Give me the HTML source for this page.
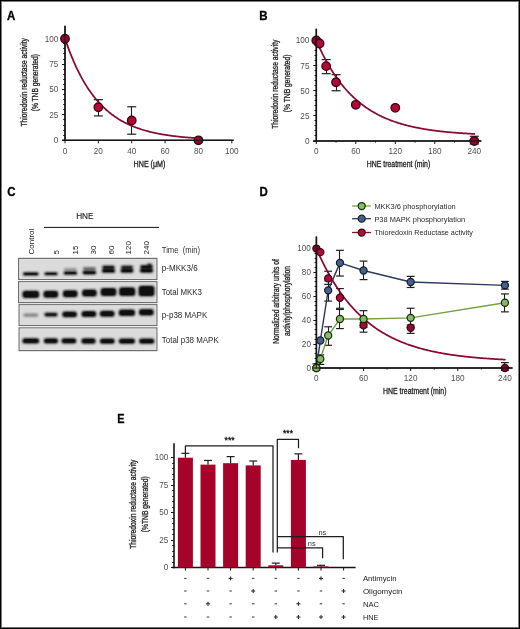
<!DOCTYPE html>
<html><head><meta charset="utf-8"><style>
html,body{margin:0;padding:0;background:#fff;}
svg{display:block;opacity:0.999;}
text{font-family:"Liberation Sans", sans-serif;}
</style></head><body>
<svg width="520" height="629" viewBox="0 0 520 629">
<defs><filter id="blur" x="-20%" y="-50%" width="140%" height="200%" color-interpolation-filters="sRGB"><feGaussianBlur stdDeviation="0.9"/></filter><filter id="blur2" x="-20%" y="-50%" width="140%" height="200%" color-interpolation-filters="sRGB"><feGaussianBlur stdDeviation="0.4"/></filter></defs>
<rect x="0" y="0" width="520" height="629" fill="#fff"/>
<text x="7.00" y="19.70" font-size="12.4" font-weight="bold" fill="#000" stroke="#000" stroke-width="0.3" textLength="8.3" lengthAdjust="spacingAndGlyphs">A</text>
<line x1="65.00" y1="25.80" x2="65.00" y2="141.00" stroke="#151515" stroke-width="1.6" />
<line x1="62.00" y1="140.50" x2="65.00" y2="140.50" stroke="#151515" stroke-width="1.0" />
<line x1="63.20" y1="135.50" x2="65.00" y2="135.50" stroke="#151515" stroke-width="1.0" />
<line x1="63.20" y1="130.50" x2="65.00" y2="130.50" stroke="#151515" stroke-width="1.0" />
<line x1="63.20" y1="125.50" x2="65.00" y2="125.50" stroke="#151515" stroke-width="1.0" />
<line x1="63.20" y1="119.50" x2="65.00" y2="119.50" stroke="#151515" stroke-width="1.0" />
<line x1="62.00" y1="114.50" x2="65.00" y2="114.50" stroke="#151515" stroke-width="1.0" />
<line x1="63.20" y1="109.50" x2="65.00" y2="109.50" stroke="#151515" stroke-width="1.0" />
<line x1="63.20" y1="104.50" x2="65.00" y2="104.50" stroke="#151515" stroke-width="1.0" />
<line x1="63.20" y1="99.50" x2="65.00" y2="99.50" stroke="#151515" stroke-width="1.0" />
<line x1="63.20" y1="94.50" x2="65.00" y2="94.50" stroke="#151515" stroke-width="1.0" />
<line x1="62.00" y1="89.50" x2="65.00" y2="89.50" stroke="#151515" stroke-width="1.0" />
<line x1="63.20" y1="84.50" x2="65.00" y2="84.50" stroke="#151515" stroke-width="1.0" />
<line x1="63.20" y1="79.50" x2="65.00" y2="79.50" stroke="#151515" stroke-width="1.0" />
<line x1="63.20" y1="74.50" x2="65.00" y2="74.50" stroke="#151515" stroke-width="1.0" />
<line x1="63.20" y1="69.50" x2="65.00" y2="69.50" stroke="#151515" stroke-width="1.0" />
<line x1="62.00" y1="64.50" x2="65.00" y2="64.50" stroke="#151515" stroke-width="1.0" />
<line x1="63.20" y1="59.50" x2="65.00" y2="59.50" stroke="#151515" stroke-width="1.0" />
<line x1="63.20" y1="53.50" x2="65.00" y2="53.50" stroke="#151515" stroke-width="1.0" />
<line x1="63.20" y1="48.50" x2="65.00" y2="48.50" stroke="#151515" stroke-width="1.0" />
<line x1="63.20" y1="43.50" x2="65.00" y2="43.50" stroke="#151515" stroke-width="1.0" />
<line x1="62.00" y1="38.50" x2="65.00" y2="38.50" stroke="#151515" stroke-width="1.0" />
<line x1="62.30" y1="140.30" x2="233.60" y2="140.30" stroke="#151515" stroke-width="1.6" />
<text x="58.35" y="143.14" font-size="8.2" letter-spacing="0.0" text-anchor="end" fill="#505050">0</text>
<text x="58.35" y="117.74" font-size="8.2" letter-spacing="0.0" text-anchor="end" fill="#505050">25</text>
<text x="58.35" y="92.34" font-size="8.2" letter-spacing="0.0" text-anchor="end" fill="#505050">50</text>
<text x="58.35" y="66.94" font-size="8.2" letter-spacing="0.0" text-anchor="end" fill="#505050">75</text>
<text x="58.35" y="41.54" font-size="8.2" letter-spacing="0.0" text-anchor="end" fill="#505050">100</text>
<line x1="65.00" y1="140.30" x2="65.00" y2="143.30" stroke="#151515" stroke-width="1.0" />
<text x="65.00" y="153.54" font-size="8.2" letter-spacing="0.0" text-anchor="middle" fill="#505050">0</text>
<line x1="98.36" y1="140.30" x2="98.36" y2="143.30" stroke="#151515" stroke-width="1.0" />
<text x="98.36" y="153.54" font-size="8.2" letter-spacing="0.0" text-anchor="middle" fill="#505050">20</text>
<line x1="131.72" y1="140.30" x2="131.72" y2="143.30" stroke="#151515" stroke-width="1.0" />
<text x="131.72" y="153.54" font-size="8.2" letter-spacing="0.0" text-anchor="middle" fill="#505050">40</text>
<line x1="165.08" y1="140.30" x2="165.08" y2="143.30" stroke="#151515" stroke-width="1.0" />
<text x="165.08" y="153.54" font-size="8.2" letter-spacing="0.0" text-anchor="middle" fill="#505050">60</text>
<line x1="198.44" y1="140.30" x2="198.44" y2="143.30" stroke="#151515" stroke-width="1.0" />
<text x="198.44" y="153.54" font-size="8.2" letter-spacing="0.0" text-anchor="middle" fill="#505050">80</text>
<line x1="231.80" y1="140.30" x2="231.80" y2="143.30" stroke="#151515" stroke-width="1.0" />
<text x="231.80" y="153.54" font-size="8.2" letter-spacing="0.0" text-anchor="middle" fill="#505050">100</text>
<text x="133.60" y="166.50" font-size="8.6" text-anchor="start" fill="#1e1e1e" stroke="#1e1e1e" stroke-width="0.3" textLength="31.8" lengthAdjust="spacingAndGlyphs">HNE (μM)</text>
<text transform="translate(27.00,82.30) rotate(-90)" x="0" y="0" font-size="8.6" text-anchor="middle" fill="#1e1e1e" stroke="#1e1e1e" stroke-width="0.3" textLength="88.5" lengthAdjust="spacingAndGlyphs">Thioredoxin reductase activity</text>
<text transform="translate(38.00,82.70) rotate(-90)" x="0" y="0" font-size="8.6" text-anchor="middle" fill="#1e1e1e" stroke="#1e1e1e" stroke-width="0.3" textLength="57.3" lengthAdjust="spacingAndGlyphs">(% TNB generated)</text>
<line x1="98.50" y1="99.66" x2="98.50" y2="115.92" stroke="#1e1e1e" stroke-width="1.1" />
<line x1="93.86" y1="99.66" x2="102.86" y2="99.66" stroke="#1e1e1e" stroke-width="1.2" />
<line x1="93.86" y1="115.92" x2="102.86" y2="115.92" stroke="#1e1e1e" stroke-width="1.2" />
<line x1="131.50" y1="106.77" x2="131.50" y2="134.20" stroke="#1e1e1e" stroke-width="1.1" />
<line x1="127.22" y1="106.77" x2="136.22" y2="106.77" stroke="#1e1e1e" stroke-width="1.2" />
<line x1="127.22" y1="134.20" x2="136.22" y2="134.20" stroke="#1e1e1e" stroke-width="1.2" />
<polyline points="65.00,38.70 65.83,41.14 66.67,43.53 67.50,45.86 68.34,48.13 69.17,50.35 70.00,52.51 70.84,54.62 71.67,56.68 72.51,58.69 73.34,60.66 74.17,62.57 75.01,64.44 75.84,66.27 76.68,68.05 77.51,69.79 78.34,71.48 79.18,73.14 80.01,74.75 80.85,76.33 81.68,77.87 82.51,79.37 83.35,80.84 84.18,82.27 85.02,83.66 85.85,85.03 86.68,86.36 87.52,87.65 88.35,88.92 89.19,90.16 90.02,91.36 90.85,92.54 91.69,93.69 92.52,94.81 93.36,95.90 94.19,96.97 95.02,98.01 95.86,99.03 96.69,100.02 97.53,100.99 98.36,101.94 99.19,102.86 100.03,103.76 100.86,104.64 101.70,105.50 102.53,106.34 103.36,107.15 104.20,107.95 105.03,108.73 105.87,109.49 106.70,110.23 107.53,110.95 108.37,111.66 109.20,112.35 110.04,113.02 110.87,113.68 111.70,114.32 112.54,114.94 113.37,115.55 114.21,116.15 115.04,116.73 115.87,117.30 116.71,117.85 117.54,118.39 118.38,118.92 119.21,119.43 120.04,119.93 120.88,120.42 121.71,120.90 122.55,121.37 123.38,121.82 124.21,122.27 125.05,122.70 125.88,123.12 126.72,123.54 127.55,123.94 128.38,124.33 129.22,124.72 130.05,125.09 130.89,125.46 131.72,125.82 132.55,126.16 133.39,126.50 134.22,126.84 135.06,127.16 135.89,127.48 136.72,127.78 137.56,128.09 138.39,128.38 139.23,128.67 140.06,128.95 140.89,129.22 141.73,129.49 142.56,129.75 143.40,130.00 144.23,130.25 145.06,130.49 145.90,130.73 146.73,130.96 147.57,131.18 148.40,131.40 149.23,131.61 150.07,131.82 150.90,132.03 151.74,132.23 152.57,132.42 153.40,132.61 154.24,132.79 155.07,132.98 155.91,133.15 156.74,133.32 157.57,133.49 158.41,133.66 159.24,133.81 160.08,133.97 160.91,134.12 161.74,134.27 162.58,134.42 163.41,134.56 164.25,134.70 165.08,134.83 165.91,134.96 166.75,135.09 167.58,135.22 168.42,135.34 169.25,135.46 170.08,135.57 170.92,135.69 171.75,135.80 172.59,135.91 173.42,136.01 174.25,136.12 175.09,136.22 175.92,136.32 176.76,136.41 177.59,136.50 178.42,136.60 179.26,136.68 180.09,136.77 180.93,136.86 181.76,136.94 182.59,137.02 183.43,137.10 184.26,137.18 185.10,137.25 185.93,137.32 186.76,137.40 187.60,137.47 188.43,137.53 189.27,137.60 190.10,137.67 190.93,137.73 191.77,137.79 192.60,137.85 193.44,137.91 194.27,137.97 195.10,138.02 195.94,138.08 196.77,138.13 197.61,138.18 198.44,138.24" fill="none" stroke="#890c30" stroke-width="1.75" stroke-linejoin="round" stroke-linecap="round"/>
<circle cx="65.00" cy="38.70" r="4.25" fill="#8a0c30" stroke="#3a0612" stroke-width="1.35"/>
<circle cx="98.36" cy="107.28" r="4.25" fill="#b50838" stroke="#3a0612" stroke-width="1.35"/>
<circle cx="131.72" cy="120.49" r="4.25" fill="#b50838" stroke="#3a0612" stroke-width="1.35"/>
<circle cx="198.44" cy="140.30" r="4.25" fill="#8a0c30" stroke="#3a0612" stroke-width="1.35"/>
<line x1="65.00" y1="25.80" x2="65.00" y2="141.00" stroke="#151515" stroke-width="1.3" opacity="0.75"/>
<line x1="62.30" y1="140.30" x2="233.60" y2="140.30" stroke="#151515" stroke-width="1.3" opacity="0.75"/>
<text x="259.30" y="20.10" font-size="12.4" font-weight="bold" fill="#000" stroke="#000" stroke-width="0.3" textLength="8.3" lengthAdjust="spacingAndGlyphs">B</text>
<line x1="316.30" y1="28.70" x2="316.30" y2="141.70" stroke="#151515" stroke-width="1.6" />
<line x1="313.30" y1="141.50" x2="316.30" y2="141.50" stroke="#151515" stroke-width="1.0" />
<line x1="314.50" y1="135.50" x2="316.30" y2="135.50" stroke="#151515" stroke-width="1.0" />
<line x1="314.50" y1="130.50" x2="316.30" y2="130.50" stroke="#151515" stroke-width="1.0" />
<line x1="314.50" y1="125.50" x2="316.30" y2="125.50" stroke="#151515" stroke-width="1.0" />
<line x1="314.50" y1="120.50" x2="316.30" y2="120.50" stroke="#151515" stroke-width="1.0" />
<line x1="313.30" y1="115.50" x2="316.30" y2="115.50" stroke="#151515" stroke-width="1.0" />
<line x1="314.50" y1="110.50" x2="316.30" y2="110.50" stroke="#151515" stroke-width="1.0" />
<line x1="314.50" y1="105.50" x2="316.30" y2="105.50" stroke="#151515" stroke-width="1.0" />
<line x1="314.50" y1="100.50" x2="316.30" y2="100.50" stroke="#151515" stroke-width="1.0" />
<line x1="314.50" y1="95.50" x2="316.30" y2="95.50" stroke="#151515" stroke-width="1.0" />
<line x1="313.30" y1="90.50" x2="316.30" y2="90.50" stroke="#151515" stroke-width="1.0" />
<line x1="314.50" y1="85.50" x2="316.30" y2="85.50" stroke="#151515" stroke-width="1.0" />
<line x1="314.50" y1="80.50" x2="316.30" y2="80.50" stroke="#151515" stroke-width="1.0" />
<line x1="314.50" y1="75.50" x2="316.30" y2="75.50" stroke="#151515" stroke-width="1.0" />
<line x1="314.50" y1="70.50" x2="316.30" y2="70.50" stroke="#151515" stroke-width="1.0" />
<line x1="313.30" y1="65.50" x2="316.30" y2="65.50" stroke="#151515" stroke-width="1.0" />
<line x1="314.50" y1="60.50" x2="316.30" y2="60.50" stroke="#151515" stroke-width="1.0" />
<line x1="314.50" y1="55.50" x2="316.30" y2="55.50" stroke="#151515" stroke-width="1.0" />
<line x1="314.50" y1="50.50" x2="316.30" y2="50.50" stroke="#151515" stroke-width="1.0" />
<line x1="314.50" y1="45.50" x2="316.30" y2="45.50" stroke="#151515" stroke-width="1.0" />
<line x1="313.30" y1="40.50" x2="316.30" y2="40.50" stroke="#151515" stroke-width="1.0" />
<line x1="313.30" y1="141.00" x2="481.30" y2="141.00" stroke="#151515" stroke-width="1.6" />
<text x="309.45" y="143.94" font-size="8.2" letter-spacing="0.0" text-anchor="end" fill="#505050">0</text>
<text x="309.45" y="118.81" font-size="8.2" letter-spacing="0.0" text-anchor="end" fill="#505050">25</text>
<text x="309.45" y="93.69" font-size="8.2" letter-spacing="0.0" text-anchor="end" fill="#505050">50</text>
<text x="309.45" y="68.56" font-size="8.2" letter-spacing="0.0" text-anchor="end" fill="#505050">75</text>
<text x="309.45" y="43.44" font-size="8.2" letter-spacing="0.0" text-anchor="end" fill="#505050">100</text>
<line x1="316.30" y1="141.00" x2="316.30" y2="144.00" stroke="#151515" stroke-width="1.0" />
<line x1="336.05" y1="141.00" x2="336.05" y2="142.60" stroke="#151515" stroke-width="1.0" />
<line x1="355.80" y1="141.00" x2="355.80" y2="144.00" stroke="#151515" stroke-width="1.0" />
<line x1="375.55" y1="141.00" x2="375.55" y2="142.60" stroke="#151515" stroke-width="1.0" />
<line x1="395.30" y1="141.00" x2="395.30" y2="144.00" stroke="#151515" stroke-width="1.0" />
<line x1="415.05" y1="141.00" x2="415.05" y2="142.60" stroke="#151515" stroke-width="1.0" />
<line x1="434.79" y1="141.00" x2="434.79" y2="144.00" stroke="#151515" stroke-width="1.0" />
<line x1="454.54" y1="141.00" x2="454.54" y2="142.60" stroke="#151515" stroke-width="1.0" />
<line x1="474.29" y1="141.00" x2="474.29" y2="144.00" stroke="#151515" stroke-width="1.0" />
<text x="316.30" y="153.74" font-size="8.2" letter-spacing="0.0" text-anchor="middle" fill="#505050">0</text>
<text x="355.80" y="153.74" font-size="8.2" letter-spacing="0.0" text-anchor="middle" fill="#505050">60</text>
<text x="395.30" y="153.74" font-size="8.2" letter-spacing="0.0" text-anchor="middle" fill="#505050">120</text>
<text x="434.79" y="153.74" font-size="8.2" letter-spacing="0.0" text-anchor="middle" fill="#505050">180</text>
<text x="474.29" y="153.74" font-size="8.2" letter-spacing="0.0" text-anchor="middle" fill="#505050">240</text>
<text x="366.70" y="167.30" font-size="8.6" text-anchor="start" fill="#1e1e1e" stroke="#1e1e1e" stroke-width="0.3" textLength="63.5" lengthAdjust="spacingAndGlyphs">HNE treatment (min)</text>
<text transform="translate(278.20,84.20) rotate(-90)" x="0" y="0" font-size="8.6" text-anchor="middle" fill="#1e1e1e" stroke="#1e1e1e" stroke-width="0.3" textLength="89.2" lengthAdjust="spacingAndGlyphs">Thioredoxin reductase activity</text>
<text transform="translate(289.90,83.40) rotate(-90)" x="0" y="0" font-size="8.6" text-anchor="middle" fill="#1e1e1e" stroke="#1e1e1e" stroke-width="0.3" textLength="57.7" lengthAdjust="spacingAndGlyphs">(% TNB generated)</text>
<line x1="326.50" y1="59.60" x2="326.50" y2="73.67" stroke="#1e1e1e" stroke-width="1.1" />
<line x1="321.67" y1="59.60" x2="330.67" y2="59.60" stroke="#1e1e1e" stroke-width="1.2" />
<line x1="321.67" y1="73.67" x2="330.67" y2="73.67" stroke="#1e1e1e" stroke-width="1.2" />
<line x1="336.50" y1="74.67" x2="336.50" y2="90.75" stroke="#1e1e1e" stroke-width="1.1" />
<line x1="331.55" y1="74.67" x2="340.55" y2="74.67" stroke="#1e1e1e" stroke-width="1.2" />
<line x1="331.55" y1="90.75" x2="340.55" y2="90.75" stroke="#1e1e1e" stroke-width="1.2" />
<line x1="474.50" y1="136.28" x2="474.50" y2="144.01" stroke="#1e1e1e" stroke-width="1.1" />
<line x1="469.79" y1="136.28" x2="478.79" y2="136.28" stroke="#1e1e1e" stroke-width="1.2" />
<line x1="469.79" y1="144.01" x2="478.79" y2="144.01" stroke="#1e1e1e" stroke-width="1.2" />
<polyline points="316.30,40.50 316.96,42.02 317.62,43.51 318.27,44.97 318.93,46.42 319.59,47.84 320.25,49.24 320.91,50.62 321.57,51.97 322.22,53.30 322.88,54.62 323.54,55.91 324.20,57.18 324.86,58.43 325.52,59.66 326.17,60.87 326.83,62.06 327.49,63.24 328.15,64.39 328.81,65.53 329.47,66.65 330.12,67.75 330.78,68.83 331.44,69.90 332.10,70.94 332.76,71.98 333.42,72.99 334.07,73.99 334.73,74.98 335.39,75.94 336.05,76.90 336.71,77.83 337.37,78.76 338.02,79.67 338.68,80.56 339.34,81.44 340.00,82.30 340.66,83.16 341.32,83.99 341.97,84.82 342.63,85.63 343.29,86.43 343.95,87.22 344.61,87.99 345.27,88.75 345.92,89.50 346.58,90.24 347.24,90.97 347.90,91.68 348.56,92.38 349.22,93.08 349.87,93.76 350.53,94.43 351.19,95.09 351.85,95.73 352.51,96.37 353.16,97.00 353.82,97.62 354.48,98.23 355.14,98.83 355.80,99.42 356.46,100.00 357.11,100.57 357.77,101.13 358.43,101.68 359.09,102.23 359.75,102.76 360.41,103.29 361.06,103.81 361.72,104.32 362.38,104.82 363.04,105.32 363.70,105.80 364.36,106.28 365.01,106.75 365.67,107.22 366.33,107.67 366.99,108.12 367.65,108.57 368.31,109.00 368.96,109.43 369.62,109.85 370.28,110.27 370.94,110.67 371.60,111.08 372.26,111.47 372.91,111.86 373.57,112.24 374.23,112.62 374.89,112.99 375.55,113.35 376.21,113.71 376.86,114.07 377.52,114.41 378.18,114.76 378.84,115.09 379.50,115.42 380.16,115.75 380.81,116.07 381.47,116.39 382.13,116.70 382.79,117.00 383.45,117.31 384.10,117.60 384.76,117.89 385.42,118.18 386.08,118.46 386.74,118.74 387.40,119.01 388.05,119.28 388.71,119.55 389.37,119.81 390.03,120.07 390.69,120.32 391.35,120.57 392.00,120.81 392.66,121.05 393.32,121.29 393.98,121.52 394.64,121.75 395.30,121.98 395.95,122.20 396.61,122.42 397.27,122.63 397.93,122.85 398.59,123.05 399.25,123.26 399.90,123.46 400.56,123.66 401.22,123.85 401.88,124.05 402.54,124.24 403.20,124.42 403.85,124.61 404.51,124.79 405.17,124.96 405.83,125.14 406.49,125.31 407.15,125.48 407.80,125.65 408.46,125.81 409.12,125.97 409.78,126.13 410.44,126.29 411.10,126.44 411.75,126.59 412.41,126.74 413.07,126.89 413.73,127.03 414.39,127.17 415.05,127.31 415.70,127.45 416.36,127.59 417.02,127.72 417.68,127.85 418.34,127.98 418.99,128.11 419.65,128.23 420.31,128.35 420.97,128.48 421.63,128.59 422.29,128.71 422.94,128.83 423.60,128.94 424.26,129.05 424.92,129.16 425.58,129.27 426.24,129.38 426.89,129.48 427.55,129.58 428.21,129.69 428.87,129.79 429.53,129.88 430.19,129.98 430.84,130.08 431.50,130.17 432.16,130.26 432.82,130.35 433.48,130.44 434.14,130.53 434.79,130.62 435.45,130.70 436.11,130.78 436.77,130.87 437.43,130.95 438.09,131.03 438.74,131.11 439.40,131.18 440.06,131.26 440.72,131.33 441.38,131.41 442.04,131.48 442.69,131.55 443.35,131.62 444.01,131.69 444.67,131.76 445.33,131.83 445.99,131.89 446.64,131.96 447.30,132.02 447.96,132.08 448.62,132.15 449.28,132.21 449.93,132.27 450.59,132.32 451.25,132.38 451.91,132.44 452.57,132.50 453.23,132.55 453.88,132.61 454.54,132.66 455.20,132.71 455.86,132.76 456.52,132.81 457.18,132.86 457.83,132.91 458.49,132.96 459.15,133.01 459.81,133.06 460.47,133.10 461.13,133.15 461.78,133.19 462.44,133.24 463.10,133.28 463.76,133.32 464.42,133.37 465.08,133.41 465.73,133.45 466.39,133.49 467.05,133.53 467.71,133.57 468.37,133.61 469.03,133.64 469.68,133.68 470.34,133.72 471.00,133.75 471.66,133.79 472.32,133.82 472.98,133.86 473.63,133.89 474.29,133.92" fill="none" stroke="#890c30" stroke-width="1.75" stroke-linejoin="round" stroke-linecap="round"/>
<circle cx="316.30" cy="40.50" r="4.25" fill="#800c2e" stroke="#3a0612" stroke-width="1.35"/>
<circle cx="319.59" cy="43.52" r="4.25" fill="#b50838" stroke="#3a0612" stroke-width="1.35"/>
<circle cx="326.17" cy="66.13" r="4.25" fill="#b50838" stroke="#3a0612" stroke-width="1.35"/>
<circle cx="336.05" cy="82.21" r="4.25" fill="#b50838" stroke="#3a0612" stroke-width="1.35"/>
<circle cx="355.80" cy="104.82" r="4.25" fill="#b50838" stroke="#3a0612" stroke-width="1.35"/>
<circle cx="395.30" cy="107.84" r="4.25" fill="#b50838" stroke="#3a0612" stroke-width="1.35"/>
<circle cx="474.29" cy="141.00" r="4.25" fill="#8a0c30" stroke="#3a0612" stroke-width="1.35"/>
<line x1="316.30" y1="28.70" x2="316.30" y2="141.70" stroke="#151515" stroke-width="1.3" opacity="0.75"/>
<line x1="313.30" y1="141.00" x2="481.30" y2="141.00" stroke="#151515" stroke-width="1.3" opacity="0.75"/>
<text x="7.20" y="196.30" font-size="12.4" font-weight="bold" fill="#000" stroke="#000" stroke-width="0.3" textLength="8.3" lengthAdjust="spacingAndGlyphs">C</text>
<text x="84.85" y="218.70" font-size="8.9" text-anchor="middle" fill="#222" font-weight="normal" textLength="17.4" lengthAdjust="spacingAndGlyphs" stroke="#222" stroke-width="0.15">HNE</text>
<line x1="44.00" y1="227.40" x2="159.00" y2="227.40" stroke="#111" stroke-width="1.0" />
<text transform="translate(33.50,254.5) rotate(-90)" x="0" y="0" font-size="8" text-anchor="start" fill="#222">Control</text>
<text transform="translate(58.60,254.5) rotate(-90)" x="0" y="0" font-size="8" text-anchor="start" fill="#222">5</text>
<text transform="translate(78.00,254.5) rotate(-90)" x="0" y="0" font-size="8" text-anchor="start" fill="#222">15</text>
<text transform="translate(95.60,254.5) rotate(-90)" x="0" y="0" font-size="8" text-anchor="start" fill="#222">30</text>
<text transform="translate(114.40,254.5) rotate(-90)" x="0" y="0" font-size="8" text-anchor="start" fill="#222">60</text>
<text transform="translate(130.80,254.5) rotate(-90)" x="0" y="0" font-size="8" text-anchor="start" fill="#222">120</text>
<text transform="translate(149.30,254.5) rotate(-90)" x="0" y="0" font-size="8" text-anchor="start" fill="#222">240</text>
<text x="161.80" y="253.30" font-size="8.4" text-anchor="start" fill="#333" font-weight="normal" textLength="38.3" lengthAdjust="spacingAndGlyphs" xml:space="preserve">Time  (min)</text>
<rect x="18.6" y="258.40" width="138.30" height="21.10" fill="#dbdbdb" stroke="#6e6e6e" stroke-width="1.2"/>
<rect x="19.8" y="259.60" width="135.90" height="18.70" fill="none" stroke="#e2e2e2" stroke-width="1"/>
<text x="161.80" y="270.60" font-size="8.5" text-anchor="start" fill="#2a2a2a" font-weight="normal" textLength="35.9" lengthAdjust="spacingAndGlyphs" >p-MKK3/6</text>
<rect x="18.6" y="281.70" width="138.30" height="20.90" fill="#dbdbdb" stroke="#6e6e6e" stroke-width="1.2"/>
<rect x="19.8" y="282.90" width="135.90" height="18.50" fill="none" stroke="#e2e2e2" stroke-width="1"/>
<text x="161.80" y="294.50" font-size="8.5" text-anchor="start" fill="#2a2a2a" font-weight="normal" textLength="40.1" lengthAdjust="spacingAndGlyphs" >Total MKK3</text>
<rect x="19.1" y="304.70" width="137.80" height="20.80" fill="#dbdbdb" stroke="#6e6e6e" stroke-width="1.2"/>
<rect x="20.3" y="305.90" width="135.40" height="18.40" fill="none" stroke="#e2e2e2" stroke-width="1"/>
<text x="161.80" y="318.40" font-size="8.5" text-anchor="start" fill="#2a2a2a" font-weight="normal" textLength="45.5" lengthAdjust="spacingAndGlyphs" >p-p38 MAPK</text>
<rect x="19.1" y="327.90" width="137.80" height="22.70" fill="#dbdbdb" stroke="#6e6e6e" stroke-width="1.2"/>
<rect x="20.3" y="329.10" width="135.40" height="20.30" fill="none" stroke="#e2e2e2" stroke-width="1"/>
<text x="161.80" y="342.50" font-size="8.5" text-anchor="start" fill="#2a2a2a" font-weight="normal" textLength="56.9" lengthAdjust="spacingAndGlyphs" >Total p38 MAPK</text>
<g filter="url(#blur)">
<rect x="22.80" y="272.25" width="16.00" height="3.30" rx="1.65" fill="#080808" opacity="1"/>
<rect x="44.20" y="272.15" width="13.60" height="3.10" rx="1.55" fill="#080808" opacity="1"/>
<rect x="63.40" y="271.45" width="14.00" height="3.30" rx="1.65" fill="#080808" opacity="1"/>
<rect x="82.40" y="270.80" width="14.00" height="3.60" rx="1.80" fill="#080808" opacity="1"/>
<rect x="101.70" y="268.95" width="13.60" height="3.90" rx="1.95" fill="#080808" opacity="1"/>
<rect x="120.40" y="268.85" width="13.20" height="3.90" rx="1.95" fill="#080808" opacity="1"/>
<rect x="139.70" y="268.55" width="13.60" height="4.10" rx="2.05" fill="#080808" opacity="1"/>
<rect x="63.90" y="268.20" width="13.00" height="2.40" rx="1.20" fill="#080808" opacity="0.4"/>
<rect x="82.90" y="267.30" width="13.00" height="2.60" rx="1.30" fill="#080808" opacity="0.6"/>
<rect x="102.00" y="265.60" width="13.00" height="3.20" rx="1.60" fill="#080808" opacity="0.9"/>
<rect x="120.70" y="265.50" width="12.60" height="3.20" rx="1.60" fill="#080808" opacity="0.85"/>
<rect x="140.00" y="265.00" width="13.00" height="3.60" rx="1.80" fill="#080808" opacity="0.95"/>
<rect x="147.00" y="263.60" width="5.00" height="2.40" rx="1.20" fill="#080808" opacity="0.8"/>
<rect x="22.40" y="290.70" width="16.80" height="7.40" rx="2.50" fill="#080808" opacity="1.0"/>
<rect x="43.40" y="290.70" width="14.80" height="7.00" rx="2.50" fill="#080808" opacity="1.0"/>
<rect x="62.80" y="290.30" width="14.80" height="7.00" rx="2.50" fill="#080808" opacity="1.0"/>
<rect x="82.00" y="289.40" width="14.80" height="7.20" rx="2.50" fill="#080808" opacity="1.0"/>
<rect x="100.60" y="287.90" width="15.80" height="8.20" rx="2.50" fill="#080808" opacity="1.0"/>
<rect x="119.10" y="287.30" width="16.20" height="8.60" rx="2.50" fill="#080808" opacity="1.0"/>
<rect x="138.50" y="285.70" width="16.00" height="10.60" rx="2.50" fill="#080808" opacity="1.0"/>
<rect x="23.30" y="313.40" width="15.00" height="3.40" rx="1.70" fill="#080808" opacity="0.42"/>
<rect x="44.10" y="312.50" width="13.80" height="4.20" rx="2.10" fill="#080808" opacity="0.85"/>
<rect x="62.20" y="311.60" width="14.80" height="5.60" rx="2.50" fill="#080808" opacity="1"/>
<rect x="81.50" y="310.90" width="14.80" height="6.00" rx="2.50" fill="#080808" opacity="1"/>
<rect x="99.80" y="310.70" width="14.80" height="6.00" rx="2.50" fill="#080808" opacity="1"/>
<rect x="118.70" y="309.60" width="16.40" height="6.40" rx="2.50" fill="#080808" opacity="1"/>
<rect x="138.90" y="309.10" width="14.80" height="6.40" rx="2.50" fill="#080808" opacity="1"/>
<rect x="22.30" y="338.20" width="17.00" height="5.20" rx="2.50" fill="#080808" opacity="1.0"/>
<rect x="43.70" y="338.30" width="14.40" height="5.20" rx="2.50" fill="#080808" opacity="1.0"/>
<rect x="61.40" y="338.30" width="15.00" height="5.20" rx="2.50" fill="#080808" opacity="1.0"/>
<rect x="81.30" y="338.30" width="14.40" height="5.40" rx="2.50" fill="#080808" opacity="1.0"/>
<rect x="99.80" y="338.60" width="15.00" height="5.20" rx="2.50" fill="#080808" opacity="1.0"/>
<rect x="118.70" y="338.60" width="16.40" height="5.20" rx="2.50" fill="#080808" opacity="1.0"/>
<rect x="139.00" y="338.60" width="15.40" height="5.20" rx="2.50" fill="#080808" opacity="1.0"/>
</g>
<g filter="url(#blur2)"><rect x="24.55" y="273.15" width="12.50" height="1.50" rx="0.75" fill="#101010" opacity="0.85"/><rect x="45.95" y="273.05" width="10.10" height="1.30" rx="0.65" fill="#101010" opacity="0.85"/><rect x="65.15" y="272.35" width="10.50" height="1.50" rx="0.75" fill="#101010" opacity="0.85"/><rect x="84.15" y="271.70" width="10.50" height="1.80" rx="0.90" fill="#101010" opacity="0.85"/><rect x="103.45" y="269.85" width="10.10" height="2.10" rx="1.05" fill="#101010" opacity="0.85"/><rect x="122.15" y="269.75" width="9.70" height="2.10" rx="1.05" fill="#101010" opacity="0.85"/><rect x="141.45" y="269.45" width="10.10" height="2.30" rx="1.15" fill="#101010" opacity="0.85"/><rect x="103.75" y="266.50" width="9.50" height="1.40" rx="0.70" fill="#101010" opacity="0.77"/><rect x="122.45" y="266.40" width="9.10" height="1.40" rx="0.70" fill="#101010" opacity="0.72"/><rect x="141.75" y="265.90" width="9.50" height="1.80" rx="0.90" fill="#101010" opacity="0.81"/><rect x="148.75" y="264.40" width="1.50" height="0.80" rx="0.40" fill="#101010" opacity="0.68"/><rect x="24.15" y="291.60" width="13.30" height="5.60" rx="2.00" fill="#101010" opacity="0.85"/><rect x="45.15" y="291.60" width="11.30" height="5.20" rx="2.00" fill="#101010" opacity="0.85"/><rect x="64.55" y="291.20" width="11.30" height="5.20" rx="2.00" fill="#101010" opacity="0.85"/><rect x="83.75" y="290.30" width="11.30" height="5.40" rx="2.00" fill="#101010" opacity="0.85"/><rect x="102.35" y="288.80" width="12.30" height="6.40" rx="2.00" fill="#101010" opacity="0.85"/><rect x="120.85" y="288.20" width="12.70" height="6.80" rx="2.00" fill="#101010" opacity="0.85"/><rect x="140.25" y="286.60" width="12.50" height="8.80" rx="2.00" fill="#101010" opacity="0.85"/><rect x="45.85" y="313.40" width="10.30" height="2.40" rx="1.20" fill="#101010" opacity="0.72"/><rect x="63.95" y="312.50" width="11.30" height="3.80" rx="1.90" fill="#101010" opacity="0.85"/><rect x="83.25" y="311.80" width="11.30" height="4.20" rx="2.00" fill="#101010" opacity="0.85"/><rect x="101.55" y="311.60" width="11.30" height="4.20" rx="2.00" fill="#101010" opacity="0.85"/><rect x="120.45" y="310.50" width="12.90" height="4.60" rx="2.00" fill="#101010" opacity="0.85"/><rect x="140.65" y="310.00" width="11.30" height="4.60" rx="2.00" fill="#101010" opacity="0.85"/><rect x="24.05" y="339.10" width="13.50" height="3.40" rx="1.70" fill="#101010" opacity="0.85"/><rect x="45.45" y="339.20" width="10.90" height="3.40" rx="1.70" fill="#101010" opacity="0.85"/><rect x="63.15" y="339.20" width="11.50" height="3.40" rx="1.70" fill="#101010" opacity="0.85"/><rect x="83.05" y="339.20" width="10.90" height="3.60" rx="1.80" fill="#101010" opacity="0.85"/><rect x="101.55" y="339.50" width="11.50" height="3.40" rx="1.70" fill="#101010" opacity="0.85"/><rect x="120.45" y="339.50" width="12.90" height="3.40" rx="1.70" fill="#101010" opacity="0.85"/><rect x="140.75" y="339.50" width="11.90" height="3.40" rx="1.70" fill="#101010" opacity="0.85"/></g>
<text x="259.50" y="195.60" font-size="12.4" font-weight="bold" fill="#000" stroke="#000" stroke-width="0.3" textLength="8.3" lengthAdjust="spacingAndGlyphs">D</text>
<line x1="352.10" y1="206.00" x2="370.90" y2="206.00" stroke="#74a048" stroke-width="1.3" />
<circle cx="361.70" cy="206.00" r="3.5" fill="#86bd62" stroke="#1c2a12" stroke-width="1.25"/>
<text x="374.40" y="209.00" font-size="7.5" text-anchor="start" fill="#2a2a2a" font-weight="normal" textLength="81.3" lengthAdjust="spacingAndGlyphs" >MKK3/6 phosphorylation</text>
<line x1="352.10" y1="218.70" x2="370.90" y2="218.70" stroke="#2c3b5c" stroke-width="1.3" />
<circle cx="361.70" cy="218.70" r="3.5" fill="#46608c" stroke="#141c2e" stroke-width="1.25"/>
<text x="374.40" y="221.70" font-size="7.5" text-anchor="start" fill="#2a2a2a" font-weight="normal" textLength="90.8" lengthAdjust="spacingAndGlyphs" >P38 MAPK phosphorylation</text>
<line x1="352.10" y1="232.50" x2="370.90" y2="232.50" stroke="#890c30" stroke-width="1.3" />
<circle cx="361.70" cy="232.50" r="3.5" fill="#b50838" stroke="#3a0612" stroke-width="1.25"/>
<text x="374.40" y="235.00" font-size="7.5" text-anchor="start" fill="#2a2a2a" font-weight="normal" textLength="98.6" lengthAdjust="spacingAndGlyphs" >Thioredoxin Reductase activity</text>
<line x1="316.40" y1="236.50" x2="316.40" y2="368.70" stroke="#151515" stroke-width="1.6" />
<line x1="313.40" y1="368.50" x2="316.40" y2="368.50" stroke="#151515" stroke-width="1.0" />
<line x1="314.60" y1="363.50" x2="316.40" y2="363.50" stroke="#151515" stroke-width="1.0" />
<line x1="314.60" y1="358.50" x2="316.40" y2="358.50" stroke="#151515" stroke-width="1.0" />
<line x1="314.60" y1="353.50" x2="316.40" y2="353.50" stroke="#151515" stroke-width="1.0" />
<line x1="314.60" y1="348.50" x2="316.40" y2="348.50" stroke="#151515" stroke-width="1.0" />
<line x1="313.40" y1="344.50" x2="316.40" y2="344.50" stroke="#151515" stroke-width="1.0" />
<line x1="314.60" y1="339.50" x2="316.40" y2="339.50" stroke="#151515" stroke-width="1.0" />
<line x1="314.60" y1="334.50" x2="316.40" y2="334.50" stroke="#151515" stroke-width="1.0" />
<line x1="314.60" y1="329.50" x2="316.40" y2="329.50" stroke="#151515" stroke-width="1.0" />
<line x1="314.60" y1="324.50" x2="316.40" y2="324.50" stroke="#151515" stroke-width="1.0" />
<line x1="313.40" y1="320.50" x2="316.40" y2="320.50" stroke="#151515" stroke-width="1.0" />
<line x1="314.60" y1="315.50" x2="316.40" y2="315.50" stroke="#151515" stroke-width="1.0" />
<line x1="314.60" y1="310.50" x2="316.40" y2="310.50" stroke="#151515" stroke-width="1.0" />
<line x1="314.60" y1="305.50" x2="316.40" y2="305.50" stroke="#151515" stroke-width="1.0" />
<line x1="314.60" y1="301.50" x2="316.40" y2="301.50" stroke="#151515" stroke-width="1.0" />
<line x1="313.40" y1="296.50" x2="316.40" y2="296.50" stroke="#151515" stroke-width="1.0" />
<line x1="314.60" y1="291.50" x2="316.40" y2="291.50" stroke="#151515" stroke-width="1.0" />
<line x1="314.60" y1="286.50" x2="316.40" y2="286.50" stroke="#151515" stroke-width="1.0" />
<line x1="314.60" y1="281.50" x2="316.40" y2="281.50" stroke="#151515" stroke-width="1.0" />
<line x1="314.60" y1="277.50" x2="316.40" y2="277.50" stroke="#151515" stroke-width="1.0" />
<line x1="313.40" y1="272.50" x2="316.40" y2="272.50" stroke="#151515" stroke-width="1.0" />
<line x1="314.60" y1="267.50" x2="316.40" y2="267.50" stroke="#151515" stroke-width="1.0" />
<line x1="314.60" y1="262.50" x2="316.40" y2="262.50" stroke="#151515" stroke-width="1.0" />
<line x1="314.60" y1="258.50" x2="316.40" y2="258.50" stroke="#151515" stroke-width="1.0" />
<line x1="314.60" y1="253.50" x2="316.40" y2="253.50" stroke="#151515" stroke-width="1.0" />
<line x1="313.40" y1="248.50" x2="316.40" y2="248.50" stroke="#151515" stroke-width="1.0" />
<line x1="313.30" y1="368.00" x2="512.50" y2="368.00" stroke="#151515" stroke-width="1.6" />
<text x="310.95" y="370.94" font-size="8.2" letter-spacing="0.0" text-anchor="end" fill="#505050">0</text>
<text x="310.95" y="347.05" font-size="8.2" letter-spacing="0.0" text-anchor="end" fill="#505050">20</text>
<text x="310.95" y="323.16" font-size="8.2" letter-spacing="0.0" text-anchor="end" fill="#505050">40</text>
<text x="310.95" y="299.27" font-size="8.2" letter-spacing="0.0" text-anchor="end" fill="#505050">60</text>
<text x="310.95" y="275.38" font-size="8.2" letter-spacing="0.0" text-anchor="end" fill="#505050">80</text>
<text x="310.95" y="251.49" font-size="8.2" letter-spacing="0.0" text-anchor="end" fill="#505050">100</text>
<line x1="316.40" y1="368.00" x2="316.40" y2="371.00" stroke="#151515" stroke-width="1.0" />
<line x1="339.96" y1="368.00" x2="339.96" y2="369.60" stroke="#151515" stroke-width="1.0" />
<line x1="363.53" y1="368.00" x2="363.53" y2="371.00" stroke="#151515" stroke-width="1.0" />
<line x1="387.09" y1="368.00" x2="387.09" y2="369.60" stroke="#151515" stroke-width="1.0" />
<line x1="410.66" y1="368.00" x2="410.66" y2="371.00" stroke="#151515" stroke-width="1.0" />
<line x1="434.22" y1="368.00" x2="434.22" y2="369.60" stroke="#151515" stroke-width="1.0" />
<line x1="457.79" y1="368.00" x2="457.79" y2="371.00" stroke="#151515" stroke-width="1.0" />
<line x1="481.35" y1="368.00" x2="481.35" y2="369.60" stroke="#151515" stroke-width="1.0" />
<line x1="504.92" y1="368.00" x2="504.92" y2="371.00" stroke="#151515" stroke-width="1.0" />
<text x="316.40" y="381.14" font-size="8.2" letter-spacing="0.0" text-anchor="middle" fill="#505050">0</text>
<text x="363.53" y="381.14" font-size="8.2" letter-spacing="0.0" text-anchor="middle" fill="#505050">60</text>
<text x="410.66" y="381.14" font-size="8.2" letter-spacing="0.0" text-anchor="middle" fill="#505050">120</text>
<text x="457.79" y="381.14" font-size="8.2" letter-spacing="0.0" text-anchor="middle" fill="#505050">180</text>
<text x="504.92" y="381.14" font-size="8.2" letter-spacing="0.0" text-anchor="middle" fill="#505050">240</text>
<text x="383.00" y="394.30" font-size="8.6" text-anchor="start" fill="#1e1e1e" stroke="#1e1e1e" stroke-width="0.3" textLength="63.5" lengthAdjust="spacingAndGlyphs">HNE treatment (min)</text>
<text transform="translate(278.60,301.50) rotate(-90)" x="0" y="0" font-size="8.6" text-anchor="middle" fill="#1e1e1e" stroke="#1e1e1e" stroke-width="0.3" textLength="84.6" lengthAdjust="spacingAndGlyphs">Normalized arbitrary units of</text>
<text transform="translate(289.50,300.90) rotate(-90)" x="0" y="0" font-size="8.6" text-anchor="middle" fill="#1e1e1e" stroke="#1e1e1e" stroke-width="0.3" textLength="70" lengthAdjust="spacingAndGlyphs">activity/phosphorylation</text>
<line x1="328.50" y1="280.80" x2="328.50" y2="301.11" stroke="#1e1e1e" stroke-width="1.1" />
<line x1="324.28" y1="280.80" x2="332.08" y2="280.80" stroke="#1e1e1e" stroke-width="1.2" />
<line x1="324.28" y1="301.11" x2="332.08" y2="301.11" stroke="#1e1e1e" stroke-width="1.2" />
<line x1="339.50" y1="250.34" x2="339.50" y2="276.02" stroke="#1e1e1e" stroke-width="1.1" />
<line x1="336.06" y1="250.34" x2="343.86" y2="250.34" stroke="#1e1e1e" stroke-width="1.2" />
<line x1="336.06" y1="276.02" x2="343.86" y2="276.02" stroke="#1e1e1e" stroke-width="1.2" />
<line x1="363.50" y1="261.09" x2="363.50" y2="279.61" stroke="#1e1e1e" stroke-width="1.1" />
<line x1="359.63" y1="261.09" x2="367.43" y2="261.09" stroke="#1e1e1e" stroke-width="1.2" />
<line x1="359.63" y1="279.61" x2="367.43" y2="279.61" stroke="#1e1e1e" stroke-width="1.2" />
<line x1="410.50" y1="276.38" x2="410.50" y2="287.49" stroke="#1e1e1e" stroke-width="1.1" />
<line x1="406.76" y1="276.38" x2="414.56" y2="276.38" stroke="#1e1e1e" stroke-width="1.2" />
<line x1="406.76" y1="287.49" x2="414.56" y2="287.49" stroke="#1e1e1e" stroke-width="1.2" />
<line x1="504.50" y1="281.40" x2="504.50" y2="289.16" stroke="#1e1e1e" stroke-width="1.1" />
<line x1="501.02" y1="281.40" x2="508.82" y2="281.40" stroke="#1e1e1e" stroke-width="1.2" />
<line x1="501.02" y1="289.16" x2="508.82" y2="289.16" stroke="#1e1e1e" stroke-width="1.2" />
<line x1="316.50" y1="363.82" x2="316.50" y2="370.39" stroke="#1e1e1e" stroke-width="1.1" />
<line x1="312.50" y1="363.82" x2="320.30" y2="363.82" stroke="#1e1e1e" stroke-width="1.2" />
<line x1="312.50" y1="370.39" x2="320.30" y2="370.39" stroke="#1e1e1e" stroke-width="1.2" />
<line x1="320.50" y1="354.86" x2="320.50" y2="364.42" stroke="#1e1e1e" stroke-width="1.1" />
<line x1="316.43" y1="354.86" x2="324.23" y2="354.86" stroke="#1e1e1e" stroke-width="1.2" />
<line x1="316.43" y1="364.42" x2="324.23" y2="364.42" stroke="#1e1e1e" stroke-width="1.2" />
<line x1="328.50" y1="326.79" x2="328.50" y2="345.30" stroke="#1e1e1e" stroke-width="1.1" />
<line x1="324.28" y1="326.79" x2="332.08" y2="326.79" stroke="#1e1e1e" stroke-width="1.2" />
<line x1="324.28" y1="345.30" x2="332.08" y2="345.30" stroke="#1e1e1e" stroke-width="1.2" />
<line x1="339.50" y1="309.47" x2="339.50" y2="328.58" stroke="#1e1e1e" stroke-width="1.1" />
<line x1="336.06" y1="309.47" x2="343.86" y2="309.47" stroke="#1e1e1e" stroke-width="1.2" />
<line x1="336.06" y1="328.58" x2="343.86" y2="328.58" stroke="#1e1e1e" stroke-width="1.2" />
<line x1="363.50" y1="310.66" x2="363.50" y2="327.39" stroke="#1e1e1e" stroke-width="1.1" />
<line x1="359.63" y1="310.66" x2="367.43" y2="310.66" stroke="#1e1e1e" stroke-width="1.2" />
<line x1="359.63" y1="327.39" x2="367.43" y2="327.39" stroke="#1e1e1e" stroke-width="1.2" />
<line x1="410.50" y1="308.27" x2="410.50" y2="327.39" stroke="#1e1e1e" stroke-width="1.1" />
<line x1="406.76" y1="308.27" x2="414.56" y2="308.27" stroke="#1e1e1e" stroke-width="1.2" />
<line x1="406.76" y1="327.39" x2="414.56" y2="327.39" stroke="#1e1e1e" stroke-width="1.2" />
<line x1="504.50" y1="293.94" x2="504.50" y2="311.86" stroke="#1e1e1e" stroke-width="1.1" />
<line x1="501.02" y1="293.94" x2="508.82" y2="293.94" stroke="#1e1e1e" stroke-width="1.2" />
<line x1="501.02" y1="311.86" x2="508.82" y2="311.86" stroke="#1e1e1e" stroke-width="1.2" />
<line x1="328.50" y1="271.25" x2="328.50" y2="284.38" stroke="#1e1e1e" stroke-width="1.1" />
<line x1="324.28" y1="271.25" x2="332.08" y2="271.25" stroke="#1e1e1e" stroke-width="1.2" />
<line x1="324.28" y1="284.38" x2="332.08" y2="284.38" stroke="#1e1e1e" stroke-width="1.2" />
<line x1="339.50" y1="288.57" x2="339.50" y2="308.27" stroke="#1e1e1e" stroke-width="1.1" />
<line x1="336.06" y1="288.57" x2="343.86" y2="288.57" stroke="#1e1e1e" stroke-width="1.2" />
<line x1="336.06" y1="308.27" x2="343.86" y2="308.27" stroke="#1e1e1e" stroke-width="1.2" />
<line x1="363.50" y1="322.61" x2="363.50" y2="332.17" stroke="#1e1e1e" stroke-width="1.1" />
<line x1="359.63" y1="322.61" x2="367.43" y2="322.61" stroke="#1e1e1e" stroke-width="1.2" />
<line x1="359.63" y1="332.17" x2="367.43" y2="332.17" stroke="#1e1e1e" stroke-width="1.2" />
<line x1="410.50" y1="325.00" x2="410.50" y2="333.36" stroke="#1e1e1e" stroke-width="1.1" />
<line x1="406.76" y1="325.00" x2="414.56" y2="325.00" stroke="#1e1e1e" stroke-width="1.2" />
<line x1="406.76" y1="333.36" x2="414.56" y2="333.36" stroke="#1e1e1e" stroke-width="1.2" />
<line x1="504.50" y1="362.62" x2="504.50" y2="370.39" stroke="#1e1e1e" stroke-width="1.1" />
<line x1="501.02" y1="362.62" x2="508.82" y2="362.62" stroke="#1e1e1e" stroke-width="1.2" />
<line x1="501.02" y1="370.39" x2="508.82" y2="370.39" stroke="#1e1e1e" stroke-width="1.2" />
<polyline points="316.40,368.00 320.33,340.53 328.18,290.36 339.96,262.88 363.53,270.53 410.66,282.00 504.92,285.34" fill="none" stroke="#2c3b5c" stroke-width="1.4" stroke-linejoin="round" stroke-linecap="round"/>
<polyline points="316.40,368.00 320.33,359.04 328.18,335.51 339.96,319.03 363.53,319.03 410.66,317.83 504.92,302.78" fill="none" stroke="#74a048" stroke-width="1.4" stroke-linejoin="round" stroke-linecap="round"/>
<polyline points="316.40,248.55 317.19,250.35 317.97,252.12 318.76,253.87 319.54,255.59 320.33,257.27 321.11,258.94 321.90,260.57 322.68,262.18 323.47,263.77 324.25,265.33 325.04,266.86 325.83,268.37 326.61,269.86 327.40,271.32 328.18,272.76 328.97,274.18 329.75,275.57 330.54,276.95 331.32,278.30 332.11,279.63 332.90,280.93 333.68,282.22 334.47,283.49 335.25,284.73 336.04,285.96 336.82,287.17 337.61,288.36 338.39,289.53 339.18,290.68 339.96,291.81 340.75,292.92 341.54,294.02 342.32,295.10 343.11,296.16 343.89,297.21 344.68,298.24 345.46,299.25 346.25,300.25 347.03,301.23 347.82,302.19 348.61,303.14 349.39,304.08 350.18,305.00 350.96,305.90 351.75,306.79 352.53,307.67 353.32,308.53 354.10,309.38 354.89,310.22 355.67,311.04 356.46,311.85 357.25,312.64 358.03,313.43 358.82,314.20 359.60,314.96 360.39,315.71 361.17,316.44 361.96,317.16 362.74,317.88 363.53,318.58 364.32,319.27 365.10,319.95 365.89,320.61 366.67,321.27 367.46,321.92 368.24,322.55 369.03,323.18 369.81,323.80 370.60,324.40 371.38,325.00 372.17,325.59 372.96,326.17 373.74,326.74 374.53,327.30 375.31,327.85 376.10,328.39 376.88,328.93 377.67,329.45 378.45,329.97 379.24,330.48 380.03,330.98 380.81,331.47 381.60,331.96 382.38,332.43 383.17,332.90 383.95,333.36 384.74,333.82 385.52,334.27 386.31,334.71 387.09,335.14 387.88,335.57 388.67,335.99 389.45,336.40 390.24,336.81 391.02,337.21 391.81,337.60 392.59,337.99 393.38,338.37 394.16,338.75 394.95,339.12 395.74,339.48 396.52,339.84 397.31,340.19 398.09,340.54 398.88,340.88 399.66,341.21 400.45,341.54 401.23,341.87 402.02,342.19 402.80,342.50 403.59,342.81 404.38,343.12 405.16,343.42 405.95,343.71 406.73,344.01 407.52,344.29 408.30,344.57 409.09,344.85 409.87,345.12 410.66,345.39 411.45,345.65 412.23,345.91 413.02,346.17 413.80,346.42 414.59,346.67 415.37,346.91 416.16,347.15 416.94,347.39 417.73,347.62 418.51,347.85 419.30,348.08 420.09,348.30 420.87,348.52 421.66,348.73 422.44,348.94 423.23,349.15 424.01,349.35 424.80,349.55 425.58,349.75 426.37,349.95 427.16,350.14 427.94,350.33 428.73,350.51 429.51,350.70 430.30,350.88 431.08,351.05 431.87,351.23 432.65,351.40 433.44,351.57 434.22,351.73 435.01,351.90 435.80,352.06 436.58,352.22 437.37,352.37 438.15,352.52 438.94,352.68 439.72,352.82 440.51,352.97 441.29,353.11 442.08,353.26 442.87,353.39 443.65,353.53 444.44,353.67 445.22,353.80 446.01,353.93 446.79,354.06 447.58,354.18 448.36,354.31 449.15,354.43 449.93,354.55 450.72,354.67 451.51,354.79 452.29,354.90 453.08,355.02 453.86,355.13 454.65,355.24 455.43,355.34 456.22,355.45 457.00,355.55 457.79,355.66 458.58,355.76 459.36,355.86 460.15,355.96 460.93,356.05 461.72,356.15 462.50,356.24 463.29,356.33 464.07,356.42 464.86,356.51 465.64,356.60 466.43,356.69 467.22,356.77 468.00,356.85 468.79,356.94 469.57,357.02 470.36,357.10 471.14,357.17 471.93,357.25 472.71,357.33 473.50,357.40 474.29,357.48 475.07,357.55 475.86,357.62 476.64,357.69 477.43,357.76 478.21,357.83 479.00,357.89 479.78,357.96 480.57,358.02 481.35,358.09 482.14,358.15 482.93,358.21 483.71,358.27 484.50,358.33 485.28,358.39 486.07,358.45 486.85,358.50 487.64,358.56 488.42,358.61 489.21,358.67 490.00,358.72 490.78,358.77 491.57,358.83 492.35,358.88 493.14,358.93 493.92,358.98 494.71,359.02 495.49,359.07 496.28,359.12 497.06,359.17 497.85,359.21 498.64,359.26 499.42,359.30 500.21,359.34 500.99,359.39 501.78,359.43 502.56,359.47 503.35,359.51 504.13,359.55 504.92,359.59" fill="none" stroke="#890c30" stroke-width="1.75" stroke-linejoin="round" stroke-linecap="round"/>
<circle cx="316.40" cy="248.55" r="3.55" fill="#7e0c2c" stroke="#3a0612" stroke-width="1.25"/>
<circle cx="320.33" cy="252.13" r="3.55" fill="#b50838" stroke="#3a0612" stroke-width="1.25"/>
<circle cx="328.18" cy="278.41" r="3.55" fill="#b50838" stroke="#3a0612" stroke-width="1.25"/>
<circle cx="339.96" cy="297.76" r="3.55" fill="#b50838" stroke="#3a0612" stroke-width="1.25"/>
<circle cx="363.53" cy="325.24" r="3.55" fill="#a00a34" stroke="#3a0612" stroke-width="1.25"/>
<circle cx="410.66" cy="327.75" r="3.55" fill="#8a0c30" stroke="#3a0612" stroke-width="1.25"/>
<circle cx="504.92" cy="368.00" r="3.55" fill="#7a0c2c" stroke="#3a0612" stroke-width="1.25"/>
<circle cx="316.40" cy="368.00" r="3.55" fill="#46608c" stroke="#141c2e" stroke-width="1.25"/>
<circle cx="320.33" cy="340.53" r="3.55" fill="#46608c" stroke="#141c2e" stroke-width="1.25"/>
<circle cx="328.18" cy="290.36" r="3.55" fill="#46608c" stroke="#141c2e" stroke-width="1.25"/>
<circle cx="339.96" cy="262.88" r="3.55" fill="#46608c" stroke="#141c2e" stroke-width="1.25"/>
<circle cx="363.53" cy="270.53" r="3.55" fill="#46608c" stroke="#141c2e" stroke-width="1.25"/>
<circle cx="410.66" cy="282.00" r="3.55" fill="#46608c" stroke="#141c2e" stroke-width="1.25"/>
<circle cx="504.92" cy="285.34" r="3.55" fill="#46608c" stroke="#141c2e" stroke-width="1.25"/>
<circle cx="316.40" cy="368.00" r="3.55" fill="#86bd62" stroke="#1c2a12" stroke-width="1.25"/>
<circle cx="320.33" cy="359.04" r="3.55" fill="#86bd62" stroke="#1c2a12" stroke-width="1.25"/>
<circle cx="328.18" cy="335.51" r="3.55" fill="#86bd62" stroke="#1c2a12" stroke-width="1.25"/>
<circle cx="339.96" cy="319.03" r="3.55" fill="#86bd62" stroke="#1c2a12" stroke-width="1.25"/>
<circle cx="363.53" cy="319.03" r="3.55" fill="#86bd62" stroke="#1c2a12" stroke-width="1.25"/>
<circle cx="410.66" cy="317.83" r="3.55" fill="#86bd62" stroke="#1c2a12" stroke-width="1.25"/>
<circle cx="504.92" cy="302.78" r="3.55" fill="#86bd62" stroke="#1c2a12" stroke-width="1.25"/>
<line x1="316.40" y1="236.50" x2="316.40" y2="368.70" stroke="#151515" stroke-width="1.3" opacity="0.75"/>
<line x1="313.30" y1="368.00" x2="512.50" y2="368.00" stroke="#151515" stroke-width="1.3" opacity="0.75"/>
<text x="117.30" y="423.20" font-size="12.4" font-weight="bold" fill="#000" stroke="#000" stroke-width="0.3" textLength="7.3" lengthAdjust="spacingAndGlyphs">E</text>
<line x1="174.00" y1="443.30" x2="174.00" y2="568.20" stroke="#151515" stroke-width="1.6" />
<line x1="171.00" y1="567.50" x2="174.00" y2="567.50" stroke="#151515" stroke-width="1.0" />
<line x1="172.20" y1="562.50" x2="174.00" y2="562.50" stroke="#151515" stroke-width="1.0" />
<line x1="172.20" y1="556.50" x2="174.00" y2="556.50" stroke="#151515" stroke-width="1.0" />
<line x1="172.20" y1="551.50" x2="174.00" y2="551.50" stroke="#151515" stroke-width="1.0" />
<line x1="172.20" y1="545.50" x2="174.00" y2="545.50" stroke="#151515" stroke-width="1.0" />
<line x1="171.00" y1="540.50" x2="174.00" y2="540.50" stroke="#151515" stroke-width="1.0" />
<line x1="172.20" y1="534.50" x2="174.00" y2="534.50" stroke="#151515" stroke-width="1.0" />
<line x1="172.20" y1="529.50" x2="174.00" y2="529.50" stroke="#151515" stroke-width="1.0" />
<line x1="172.20" y1="523.50" x2="174.00" y2="523.50" stroke="#151515" stroke-width="1.0" />
<line x1="172.20" y1="518.50" x2="174.00" y2="518.50" stroke="#151515" stroke-width="1.0" />
<line x1="171.00" y1="512.50" x2="174.00" y2="512.50" stroke="#151515" stroke-width="1.0" />
<line x1="172.20" y1="507.50" x2="174.00" y2="507.50" stroke="#151515" stroke-width="1.0" />
<line x1="172.20" y1="501.50" x2="174.00" y2="501.50" stroke="#151515" stroke-width="1.0" />
<line x1="172.20" y1="496.50" x2="174.00" y2="496.50" stroke="#151515" stroke-width="1.0" />
<line x1="172.20" y1="490.50" x2="174.00" y2="490.50" stroke="#151515" stroke-width="1.0" />
<line x1="171.00" y1="485.50" x2="174.00" y2="485.50" stroke="#151515" stroke-width="1.0" />
<line x1="172.20" y1="479.50" x2="174.00" y2="479.50" stroke="#151515" stroke-width="1.0" />
<line x1="172.20" y1="474.50" x2="174.00" y2="474.50" stroke="#151515" stroke-width="1.0" />
<line x1="172.20" y1="468.50" x2="174.00" y2="468.50" stroke="#151515" stroke-width="1.0" />
<line x1="172.20" y1="463.50" x2="174.00" y2="463.50" stroke="#151515" stroke-width="1.0" />
<line x1="171.00" y1="457.50" x2="174.00" y2="457.50" stroke="#151515" stroke-width="1.0" />
<line x1="172.30" y1="567.50" x2="355.60" y2="567.50" stroke="#151515" stroke-width="1.6" />
<text x="168.35" y="570.04" font-size="8.2" letter-spacing="0.0" text-anchor="end" fill="#505050">0</text>
<text x="168.35" y="542.59" font-size="8.2" letter-spacing="0.0" text-anchor="end" fill="#505050">25</text>
<text x="168.35" y="515.14" font-size="8.2" letter-spacing="0.0" text-anchor="end" fill="#505050">50</text>
<text x="168.35" y="487.69" font-size="8.2" letter-spacing="0.0" text-anchor="end" fill="#505050">75</text>
<text x="168.35" y="460.24" font-size="8.2" letter-spacing="0.0" text-anchor="end" fill="#505050">100</text>
<text transform="translate(136.40,504.20) rotate(-90)" x="0" y="0" font-size="8.6" text-anchor="middle" fill="#1e1e1e" stroke="#1e1e1e" stroke-width="0.3" textLength="89.2" lengthAdjust="spacingAndGlyphs">Thioredoxin reductase activity</text>
<text transform="translate(147.50,504.20) rotate(-90)" x="0" y="0" font-size="8.6" text-anchor="middle" fill="#1e1e1e" stroke="#1e1e1e" stroke-width="0.3" textLength="56" lengthAdjust="spacingAndGlyphs">(%TNB generated)</text>
<rect x="177.90" y="457.70" width="15" height="109.80" fill="#a50329"/>
<line x1="185.40" y1="457.70" x2="185.40" y2="453.31" stroke="#1e1e1e" stroke-width="1.2" />
<line x1="181.40" y1="453.31" x2="189.40" y2="453.31" stroke="#1e1e1e" stroke-width="1.2" />
<line x1="185.40" y1="567.50" x2="185.40" y2="570.50" stroke="#151515" stroke-width="1.0" />
<rect x="200.50" y="464.62" width="15" height="102.88" fill="#a50329"/>
<line x1="208.00" y1="464.62" x2="208.00" y2="460.44" stroke="#1e1e1e" stroke-width="1.2" />
<line x1="204.00" y1="460.44" x2="212.00" y2="460.44" stroke="#1e1e1e" stroke-width="1.2" />
<line x1="208.00" y1="567.50" x2="208.00" y2="570.50" stroke="#151515" stroke-width="1.0" />
<rect x="223.10" y="463.19" width="15" height="104.31" fill="#a50329"/>
<line x1="230.60" y1="463.19" x2="230.60" y2="456.60" stroke="#1e1e1e" stroke-width="1.2" />
<line x1="226.60" y1="456.60" x2="234.60" y2="456.60" stroke="#1e1e1e" stroke-width="1.2" />
<line x1="230.60" y1="567.50" x2="230.60" y2="570.50" stroke="#151515" stroke-width="1.0" />
<rect x="245.70" y="465.39" width="15" height="102.11" fill="#a50329"/>
<line x1="253.20" y1="465.39" x2="253.20" y2="460.99" stroke="#1e1e1e" stroke-width="1.2" />
<line x1="249.20" y1="460.99" x2="257.20" y2="460.99" stroke="#1e1e1e" stroke-width="1.2" />
<line x1="253.20" y1="567.50" x2="253.20" y2="570.50" stroke="#151515" stroke-width="1.0" />
<rect x="268.30" y="565.30" width="15" height="2.20" fill="#a50329"/>
<line x1="275.80" y1="565.30" x2="275.80" y2="563.11" stroke="#1e1e1e" stroke-width="1.2" />
<line x1="271.80" y1="563.11" x2="279.80" y2="563.11" stroke="#1e1e1e" stroke-width="1.2" />
<line x1="275.80" y1="567.50" x2="275.80" y2="570.50" stroke="#151515" stroke-width="1.0" />
<rect x="290.90" y="459.90" width="15" height="107.60" fill="#a50329"/>
<line x1="298.40" y1="459.90" x2="298.40" y2="453.86" stroke="#1e1e1e" stroke-width="1.2" />
<line x1="294.40" y1="453.86" x2="302.40" y2="453.86" stroke="#1e1e1e" stroke-width="1.2" />
<line x1="298.40" y1="567.50" x2="298.40" y2="570.50" stroke="#151515" stroke-width="1.0" />
<rect x="313.50" y="566.40" width="15" height="1.10" fill="#a50329"/>
<line x1="321.00" y1="566.40" x2="321.00" y2="565.30" stroke="#1e1e1e" stroke-width="1.2" />
<line x1="317.00" y1="565.30" x2="325.00" y2="565.30" stroke="#1e1e1e" stroke-width="1.2" />
<line x1="321.00" y1="567.50" x2="321.00" y2="570.50" stroke="#151515" stroke-width="1.0" />
<line x1="343.60" y1="567.50" x2="343.60" y2="570.50" stroke="#151515" stroke-width="1.0" />
<polyline points="185.40,453.00 185.40,445.80 273.00,445.80 273.00,552.50" fill="none" stroke="#1e1e1e" stroke-width="1.25" stroke-linejoin="round" stroke-linecap="butt"/>
<polyline points="277.30,552.50 277.30,439.40 298.50,439.40 298.50,448.30" fill="none" stroke="#1e1e1e" stroke-width="1.25" stroke-linejoin="round" stroke-linecap="butt"/>
<text x="229.60" y="443.30" font-size="8.6" text-anchor="middle" fill="#1a1a1a" font-weight="normal" stroke="#1a1a1a" stroke-width="0.35">***</text>
<text x="288.00" y="436.30" font-size="8.6" text-anchor="middle" fill="#1a1a1a" font-weight="normal" stroke="#1a1a1a" stroke-width="0.35">***</text>
<polyline points="277.30,536.60 343.30,536.60 343.30,559.20" fill="none" stroke="#1e1e1e" stroke-width="1.25" stroke-linejoin="round" stroke-linecap="butt"/>
<polyline points="277.30,547.80 322.60,547.80 322.60,558.20" fill="none" stroke="#1e1e1e" stroke-width="1.25" stroke-linejoin="round" stroke-linecap="butt"/>
<text x="322.30" y="534.70" font-size="7.4" text-anchor="middle" fill="#333" font-weight="normal" >ns</text>
<text x="311.70" y="545.50" font-size="7.4" text-anchor="middle" fill="#333" font-weight="normal" >ns</text>
<line x1="184.15" y1="578.40" x2="186.65" y2="578.40" stroke="#3a3a3a" stroke-width="1.0" />
<line x1="206.75" y1="578.40" x2="209.25" y2="578.40" stroke="#3a3a3a" stroke-width="1.0" />
<line x1="228.60" y1="578.40" x2="232.60" y2="578.40" stroke="#222" stroke-width="1.0" />
<line x1="230.60" y1="576.40" x2="230.60" y2="580.40" stroke="#222" stroke-width="1.0" />
<line x1="251.95" y1="578.40" x2="254.45" y2="578.40" stroke="#3a3a3a" stroke-width="1.0" />
<line x1="274.55" y1="578.40" x2="277.05" y2="578.40" stroke="#3a3a3a" stroke-width="1.0" />
<line x1="297.15" y1="578.40" x2="299.65" y2="578.40" stroke="#3a3a3a" stroke-width="1.0" />
<line x1="319.00" y1="578.40" x2="323.00" y2="578.40" stroke="#222" stroke-width="1.0" />
<line x1="321.00" y1="576.40" x2="321.00" y2="580.40" stroke="#222" stroke-width="1.0" />
<line x1="342.35" y1="578.40" x2="344.85" y2="578.40" stroke="#3a3a3a" stroke-width="1.0" />
<text x="362.90" y="581.30" font-size="7.9" text-anchor="start" fill="#222" font-weight="normal" textLength="33.6" lengthAdjust="spacingAndGlyphs" >Antimycin</text>
<line x1="184.15" y1="591.00" x2="186.65" y2="591.00" stroke="#3a3a3a" stroke-width="1.0" />
<line x1="206.75" y1="591.00" x2="209.25" y2="591.00" stroke="#3a3a3a" stroke-width="1.0" />
<line x1="229.35" y1="591.00" x2="231.85" y2="591.00" stroke="#3a3a3a" stroke-width="1.0" />
<line x1="251.20" y1="591.00" x2="255.20" y2="591.00" stroke="#222" stroke-width="1.0" />
<line x1="253.20" y1="589.00" x2="253.20" y2="593.00" stroke="#222" stroke-width="1.0" />
<line x1="274.55" y1="591.00" x2="277.05" y2="591.00" stroke="#3a3a3a" stroke-width="1.0" />
<line x1="297.15" y1="591.00" x2="299.65" y2="591.00" stroke="#3a3a3a" stroke-width="1.0" />
<line x1="319.75" y1="591.00" x2="322.25" y2="591.00" stroke="#3a3a3a" stroke-width="1.0" />
<line x1="341.60" y1="591.00" x2="345.60" y2="591.00" stroke="#222" stroke-width="1.0" />
<line x1="343.60" y1="589.00" x2="343.60" y2="593.00" stroke="#222" stroke-width="1.0" />
<text x="362.90" y="593.90" font-size="7.9" text-anchor="start" fill="#222" font-weight="normal" textLength="39.6" lengthAdjust="spacingAndGlyphs" >Oligomycin</text>
<line x1="184.15" y1="603.80" x2="186.65" y2="603.80" stroke="#3a3a3a" stroke-width="1.0" />
<line x1="206.00" y1="603.80" x2="210.00" y2="603.80" stroke="#222" stroke-width="1.0" />
<line x1="208.00" y1="601.80" x2="208.00" y2="605.80" stroke="#222" stroke-width="1.0" />
<line x1="229.35" y1="603.80" x2="231.85" y2="603.80" stroke="#3a3a3a" stroke-width="1.0" />
<line x1="251.95" y1="603.80" x2="254.45" y2="603.80" stroke="#3a3a3a" stroke-width="1.0" />
<line x1="274.55" y1="603.80" x2="277.05" y2="603.80" stroke="#3a3a3a" stroke-width="1.0" />
<line x1="296.40" y1="603.80" x2="300.40" y2="603.80" stroke="#222" stroke-width="1.0" />
<line x1="298.40" y1="601.80" x2="298.40" y2="605.80" stroke="#222" stroke-width="1.0" />
<line x1="319.75" y1="603.80" x2="322.25" y2="603.80" stroke="#3a3a3a" stroke-width="1.0" />
<line x1="342.35" y1="603.80" x2="344.85" y2="603.80" stroke="#3a3a3a" stroke-width="1.0" />
<text x="362.90" y="606.70" font-size="7.9" text-anchor="start" fill="#222" font-weight="normal" textLength="16.1" lengthAdjust="spacingAndGlyphs" >NAC</text>
<line x1="184.15" y1="617.00" x2="186.65" y2="617.00" stroke="#3a3a3a" stroke-width="1.0" />
<line x1="206.75" y1="617.00" x2="209.25" y2="617.00" stroke="#3a3a3a" stroke-width="1.0" />
<line x1="229.35" y1="617.00" x2="231.85" y2="617.00" stroke="#3a3a3a" stroke-width="1.0" />
<line x1="251.95" y1="617.00" x2="254.45" y2="617.00" stroke="#3a3a3a" stroke-width="1.0" />
<line x1="273.80" y1="617.00" x2="277.80" y2="617.00" stroke="#222" stroke-width="1.0" />
<line x1="275.80" y1="615.00" x2="275.80" y2="619.00" stroke="#222" stroke-width="1.0" />
<line x1="296.40" y1="617.00" x2="300.40" y2="617.00" stroke="#222" stroke-width="1.0" />
<line x1="298.40" y1="615.00" x2="298.40" y2="619.00" stroke="#222" stroke-width="1.0" />
<line x1="319.00" y1="617.00" x2="323.00" y2="617.00" stroke="#222" stroke-width="1.0" />
<line x1="321.00" y1="615.00" x2="321.00" y2="619.00" stroke="#222" stroke-width="1.0" />
<line x1="341.60" y1="617.00" x2="345.60" y2="617.00" stroke="#222" stroke-width="1.0" />
<line x1="343.60" y1="615.00" x2="343.60" y2="619.00" stroke="#222" stroke-width="1.0" />
<text x="362.90" y="619.90" font-size="7.9" text-anchor="start" fill="#222" font-weight="normal" textLength="15.5" lengthAdjust="spacingAndGlyphs" >HNE</text>
<g shape-rendering="crispEdges">
<rect x="1" y="1" width="518" height="1" fill="#7a7a7a"/>
<rect x="1" y="1" width="1" height="627" fill="#7a7a7a"/>
<rect x="518" y="1" width="1" height="627" fill="#808080"/>
<rect x="1" y="627" width="518" height="1" fill="#707070"/>
<rect x="0" y="0" width="520" height="1" fill="#000"/>
<rect x="0" y="0" width="1" height="629" fill="#000"/>
<rect x="519" y="0" width="1" height="629" fill="#000"/>
<rect x="0" y="628" width="520" height="1" fill="#000"/>
</g>
</svg>
</body></html>
